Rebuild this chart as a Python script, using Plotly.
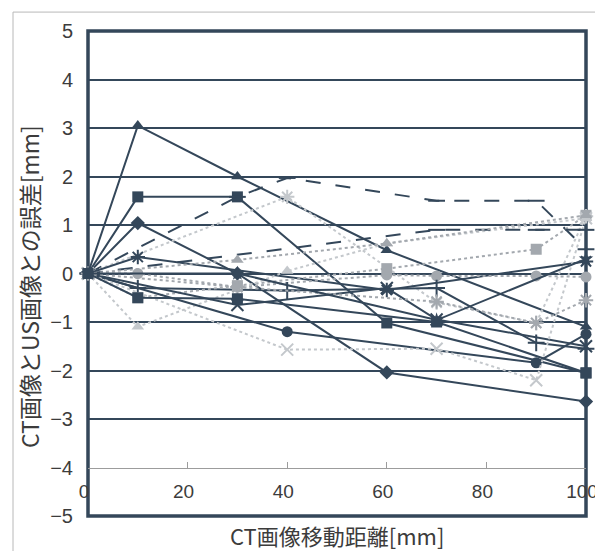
import plotly.graph_objects as go

# ---- axis ticks ----
x_ticks = [0, 20, 40, 60, 80, 100]
y_ticks = [-5, -4, -3, -2, -1, 0, 1, 2, 3, 4, 5]
grid_vals = [-3, -2, -1, 0, 1, 2, 3, 4]

# ---- series (x = CT image shift [mm], y = error [mm]) ----
tri_x = [0, 10, 30, 60, 100]
tri_y = [0, 3.05, 2.0, 0.48, -1.1]
sq_x = [0, 10, 30, 60, 100]
sq_y = [0, 1.58, 1.58, -1.02, -2.05]
dia_x = [0, 10, 30, 60, 100]
dia_y = [0, 1.04, 0.0, -2.04, -2.64]
dashA_x = [0, 30, 40, 70, 90, 100]
dashA_y = [0, 1.58, 1.97, 1.5, 1.5, 0.5]
gast_x = [0, 40, 70, 90, 100]
gast_y = [0, 1.58, -0.6, -1.02, 1.18]
dast_x = [0, 10, 60, 100]
dast_y = [0, 0.34, -0.34, 0.25]
gcir_x = [0, 10, 30, 60, 70, 90, 100]
gcir_y = [0, 0.0, -0.28, -0.03, -0.05, -0.05, -0.07]
dplus_x = [0, 10, 40, 70, 90, 100]
dplus_y = [0, -0.3, -0.35, -0.3, -1.43, -1.55]
gsq_x = [0, 10, 30, 60, 90, 100]
gsq_y = [0, -0.5, -0.25, 0.1, 0.5, 1.2]
gtri_x = [0, 10, 40, 60, 100]
gtri_y = [0, -1.1, 0.05, 0.62, 1.14]
dcir_x = [0, 40, 90, 100]
dcir_y = [0, -1.2, -1.84, -1.25]
dx_x = [0, 30, 60, 70, 100]
dx_y = [0, -0.65, -0.3, -0.95, -1.5]
gx_x = [0, 40, 70, 90, 100]
gx_y = [0, -1.57, -1.55, -2.2, 1.14]
dashB_x = [0, 70, 90, 100]
dashB_y = [0, 0.9, 0.9, 0.9]
gtri2_x = [0, 30, 60, 100]
gtri2_y = [0, 0.28, 0.62, 1.2]
gstar_x = [0, 30, 70, 90, 100]
gstar_y = [0, -0.28, -0.58, -1.02, -0.55]
dstar_x = [0, 30, 70, 100]
dstar_y = [0, 0.0, -0.96, 0.3]
dsq2_x = [0, 10, 30, 70, 100]
dsq2_y = [0, -0.5, -0.52, -1.0, -2.05]

DARK = "#34475a"
GRAY = "#a3a8ae"
LIGHT = "#c4c8cc"

# (x, y, symbol, color, dash)
styles = [
    (tri_x, tri_y, "triangle-up", DARK, "solid"),
    (sq_x, sq_y, "square", DARK, "solid"),
    (dia_x, dia_y, "diamond", DARK, "solid"),
    (dashA_x, dashA_y, "line-ew-open", DARK, "longdash"),
    (gast_x, gast_y, "asterisk-open", LIGHT, "dot"),
    (dast_x, dast_y, "asterisk-open", DARK, "solid"),
    (gcir_x, gcir_y, "circle", GRAY, "dot"),
    (dplus_x, dplus_y, "cross-thin-open", DARK, "solid"),
    (gsq_x, gsq_y, "square", GRAY, "dot"),
    (gtri_x, gtri_y, "triangle-up", LIGHT, "dot"),
    (dcir_x, dcir_y, "circle", DARK, "solid"),
    (dx_x, dx_y, "x-thin-open", DARK, "solid"),
    (gx_x, gx_y, "x-thin-open", LIGHT, "dot"),
    (dashB_x, dashB_y, "line-ew-open", DARK, "longdash"),
    (gtri2_x, gtri2_y, "triangle-up", GRAY, "dot"),
    (gstar_x, gstar_y, "asterisk-open", GRAY, "dot"),
    (dstar_x, dstar_y, "star", DARK, "solid"),
    (dsq2_x, dsq2_y, "square", DARK, "solid"),
]

fig = go.Figure()
for xs, ys, sym, col, dash in styles:
    open_sym = sym.endswith("-open")
    fig.add_trace(go.Scatter(
        x=xs, y=ys, mode="lines+markers",
        line=dict(color=col, width=2, dash=dash),
        marker=dict(symbol=sym, size=11 if not open_sym else 12, color=col,
                    line=dict(color=col, width=2 if open_sym else 0)),
        cliponaxis=False, showlegend=False, hoverinfo="skip",
    ))

# invisible trace so the grid-only axis is drawn
fig.add_trace(go.Scatter(x=[0], y=[0], yaxis="y2", mode="markers",
                         marker=dict(opacity=0), showlegend=False, hoverinfo="skip"))

TEXT = "#3c3c3c"
fig.update_layout(
    width=595, height=543,
    margin=dict(l=80, r=17, t=23, b=35, autoexpand=False),
    paper_bgcolor="white", plot_bgcolor="white",
    font=dict(family="Liberation Sans, Noto Sans CJK JP", color=TEXT),
    xaxis=dict(range=[0, 100], tickvals=x_ticks, anchor="free", position=0.1,
               showline=True, linecolor="#9c9c9c", linewidth=1,
               ticks="inside", ticklen=6, tickcolor="#9c9c9c",
               showgrid=False, zeroline=False, automargin=False,
               tickfont=dict(size=19, color=TEXT), ticklabelstandoff=7,
               ticklabelshift=-4),
    yaxis=dict(range=[-5, 5], tickvals=y_ticks, showgrid=False, zeroline=False,
               automargin=False, ticks="", tickfont=dict(size=20, color=TEXT),
               ticklabelstandoff=14),
    yaxis2=dict(range=[-5, 5], overlaying="y", side="right", tickvals=grid_vals,
                showgrid=True, gridcolor=DARK, gridwidth=2, showticklabels=False,
                zeroline=False, ticks="", automargin=False),
    shapes=[
        dict(type="rect", xref="paper", yref="paper", x0=0, x1=1, y0=0, y1=1,
             line=dict(color=DARK, width=3.5), layer="between"),
        dict(type="rect", xref="paper", yref="paper", x0=-0.1506, x1=1.2, y0=-0.3, y1=1.039,
             line=dict(color="#b8b8b8", width=1), layer="below"),
    ],
    annotations=[
        dict(text="CT画像移動距離[mm]", xref="paper", yref="paper", x=0.5, y=-0.039,
             xanchor="center", yanchor="middle", showarrow=False,
             font=dict(size=22, color=TEXT, family="Noto Sans CJK JP")),
        dict(text="CT画像とUS画像との誤差[mm]", xref="paper", yref="paper", x=-0.1185, y=0.474,
             xanchor="center", yanchor="middle", textangle=-90, showarrow=False,
             font=dict(size=23, color=TEXT, family="Noto Sans CJK JP")),
    ],
)

fig.write_html("out.html")
